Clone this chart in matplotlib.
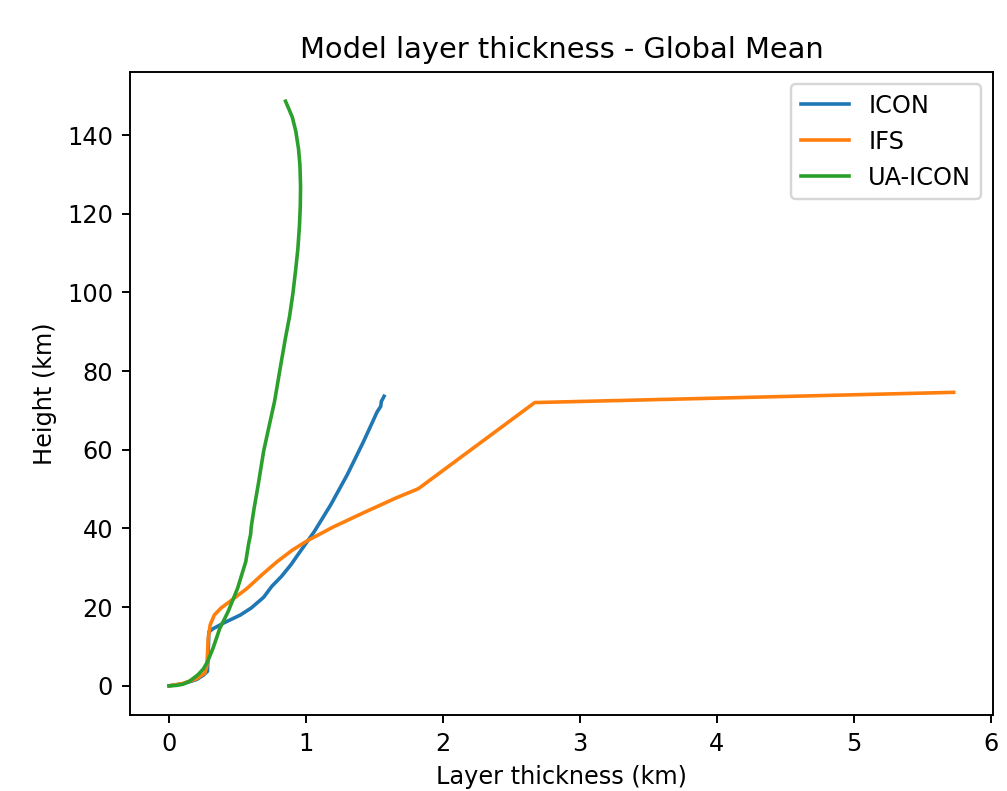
import matplotlib.pyplot as plt

# global mean layer thickness (km) against height (km) for each model
icon_dz = [0.0, 0.1, 0.2, 0.25, 0.28, 0.285, 0.29, 0.32, 0.4, 0.52, 0.6, 0.69, 0.75, 0.82, 0.89,
           0.94, 1.06, 1.18, 1.30, 1.42, 1.52, 1.545, 1.55, 1.57]
icon_z = [0.0, 0.5, 1.6, 2.7, 3.7, 8.0, 13.7, 14.5, 16.0, 18.0, 19.8, 22.5, 25.3, 27.8, 30.8,
          33.3, 39.2, 46.0, 53.6, 62.1, 69.7, 71.0, 72.3, 73.6]

ifs_dz = [0.0, 0.1, 0.2, 0.26, 0.275, 0.28, 0.285, 0.3, 0.33, 0.38, 0.45, 0.57, 0.68, 0.79,
          0.9, 1.01, 1.2, 1.42, 1.66, 1.82, 2.67, 5.73]
ifs_z = [0.0, 0.6, 1.8, 3.2, 5.0, 8.0, 12.0, 15.5, 18.0, 19.8, 21.6, 24.8, 28.3, 31.6,
         34.5, 36.9, 40.4, 44.0, 47.8, 50.1, 72.0, 74.6]

ua_dz = [0.0, 0.05, 0.1, 0.15, 0.21, 0.25, 0.28, 0.32, 0.37, 0.43, 0.5, 0.56, 0.58, 0.595, 0.6,
         0.62, 0.65, 0.69, 0.73, 0.77, 0.81, 0.85, 0.88, 0.905, 0.925, 0.94, 0.952, 0.958, 0.96,
         0.955, 0.945, 0.925, 0.90, 0.87, 0.85]
ua_z = [0.0, 0.1, 0.4, 1.2, 2.8, 4.3, 6.1, 9.5, 14.6, 18.8, 24.8, 31.6, 36.0, 38.5, 40.5,
        45.0, 51.0, 59.6, 66.0, 72.3, 80.5, 88.5, 94.0, 100.0, 106.0, 111.0, 117.0, 122.0, 127.0,
        132.5, 136.5, 141.0, 144.5, 147.0, 148.6]

dpi = 173
fig = plt.figure(figsize=(1007/dpi, 791/dpi), dpi=dpi)
ax = fig.add_axes([0.129, 0.096, 0.857, 0.813])

ax.plot(icon_dz, icon_z, label="ICON")
ax.plot(ifs_dz, ifs_z, label="IFS")
ax.plot(ua_dz, ua_z, label="UA-ICON")

ax.set_title("Model layer thickness - Global Mean")
ax.set_xlabel("Layer thickness (km)")
ax.set_ylabel("Height (km)")
ax.legend(loc="upper right")

fig.savefig("out.png", dpi=dpi)
